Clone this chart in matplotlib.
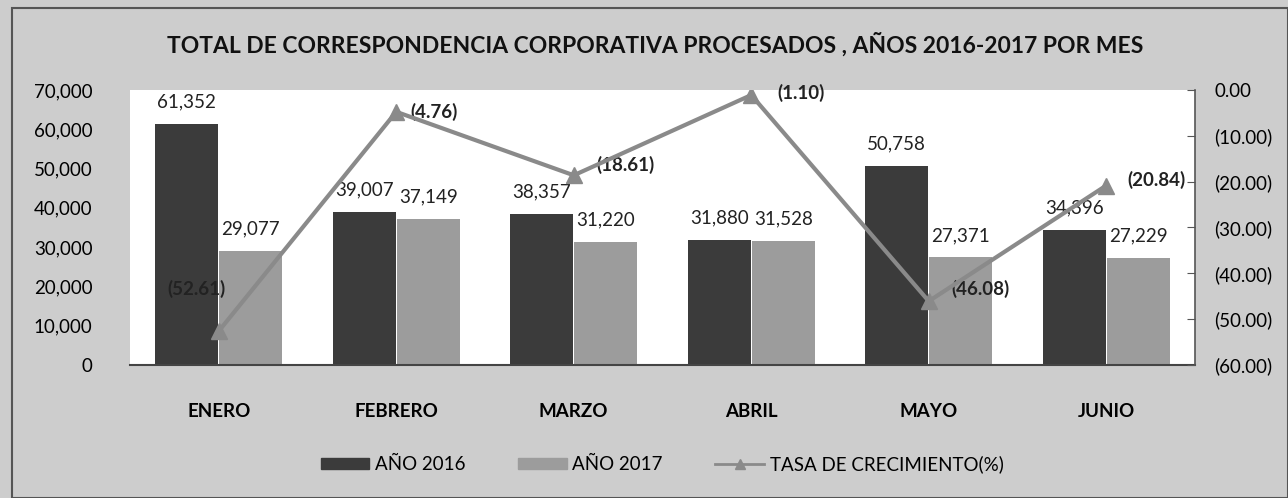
import numpy as np
import matplotlib.pyplot as plt
from matplotlib.patches import Patch, Rectangle
from matplotlib.lines import Line2D
from matplotlib.ticker import FuncFormatter

plt.rcParams['font.family'] = ['Lato', 'DejaVu Sans']

meses = ["ENERO", "FEBRERO", "MARZO", "ABRIL", "MAYO", "JUNIO"]
anio_2016 = [61352, 39007, 38357, 31880, 50758, 34396]
anio_2017 = [29077, 37149, 31220, 31528, 27371, 27229]
tasa = [-52.61, -4.76, -18.61, -1.10, -46.08, -20.84]

# offsets (pixels) for the growth-rate labels
tasa_off = [(-22, 42), (38, 0), (52, 10), (50, 2), (52, 12), (50, 6)]

c_2016 = '#3b3b3b'
c_2017 = '#9c9c9c'
c_line = '#8a8a8a'
bg = '#cdcdcd'
fs = 13.5

fig = plt.figure(figsize=(12.88, 4.98), dpi=100, facecolor=bg)
fig.patches.append(Rectangle((12 / 1288, 0), 1 - 12 / 1288, 1 - 8 / 498, transform=fig.transFigure,
                             fill=False, edgecolor='#555555', linewidth=1.5))

ax1 = fig.add_axes([130 / 1288, 1 - 365 / 498, 1065 / 1288, 275 / 498])
ax1.set_facecolor('white')
ax2 = ax1.twinx()

x = np.arange(len(meses))
w = 0.355
b1 = ax1.bar(x - 0.18, anio_2016, w, color=c_2016, zorder=2)
b2 = ax1.bar(x + 0.18, anio_2017, w, color=c_2017, zorder=2)
ax1.set_xlim(-0.5, len(meses) - 0.5)
ax1.set_ylim(0, 70000)
ax1.set_yticks(range(0, 70001, 10000))
ax1.yaxis.set_major_formatter(FuncFormatter(lambda v, p: f"{int(v):,}"))
ax1.set_xticks(x)
ax1.set_xticklabels(meses, fontweight='bold', fontsize=fs)
ax1.tick_params(axis='x', length=0, pad=27)
ax1.tick_params(axis='y', length=0, pad=27, labelsize=fs)
for s in ['top', 'right', 'left']:
    ax1.spines[s].set_visible(False)
ax1.spines['bottom'].set_color('#444444')
ax1.spines['bottom'].set_linewidth(1.5)

for bars, vals in [(b1, anio_2016), (b2, anio_2017)]:
    for r, v in zip(bars, vals):
        ax1.annotate(f"{v:,}", (r.get_x() + r.get_width() / 2, v), xytext=(0, 22),
                     textcoords='offset pixels', ha='center', va='center', fontsize=fs,
                     color='#222222', zorder=5)

ax2.plot(x, tasa, color=c_line, linewidth=3, marker='^', markersize=12, zorder=4)
ax2.set_ylim(-60, 0)
ax2.set_yticks(range(-60, 1, 10))
ax2.yaxis.set_major_formatter(FuncFormatter(lambda v, p: "0.00" if v == 0 else f"({abs(v):.2f})"))
ax2.tick_params(axis='y', direction='in', length=6, pad=14, labelsize=fs, color='#555555')
for s in ['top', 'left', 'bottom']:
    ax2.spines[s].set_visible(False)
ax2.spines['right'].set_color('#555555')
ax2.spines['right'].set_linewidth(1.2)
ax2.set_zorder(ax1.get_zorder() + 1)
ax2.patch.set_visible(False)

for xi, v, off in zip(x, tasa, tasa_off):
    ax2.annotate(f"({abs(v):.2f})", (xi, v), xytext=off, textcoords='offset pixels',
                 ha='center', va='center', fontsize=fs, fontweight='bold', color='#222222')

fig.text(655 / 1288, 1 - 45 / 498, "TOTAL DE CORRESPONDENCIA CORPORATIVA PROCESADOS , AÑOS 2016-2017 POR MES",
         ha='center', va='center', fontsize=16.5, fontweight='bold', color='#111111')

handles = [Patch(color=c_2016), Patch(color=c_2017),
           Line2D([], [], color=c_line, linewidth=2, marker='^', markersize=7)]
fig.legend(handles, ["AÑO 2016", "AÑO 2017", "TASA DE CRECIMIENTO(%)"],
           loc='center', bbox_to_anchor=(662 / 1288, 1 - 464 / 498), ncol=3, frameon=False,
           fontsize=fs, handlelength=2.6, handleheight=0.55, columnspacing=2.8, handletextpad=0.3)

fig.savefig("out.png", dpi=100, facecolor=bg)
